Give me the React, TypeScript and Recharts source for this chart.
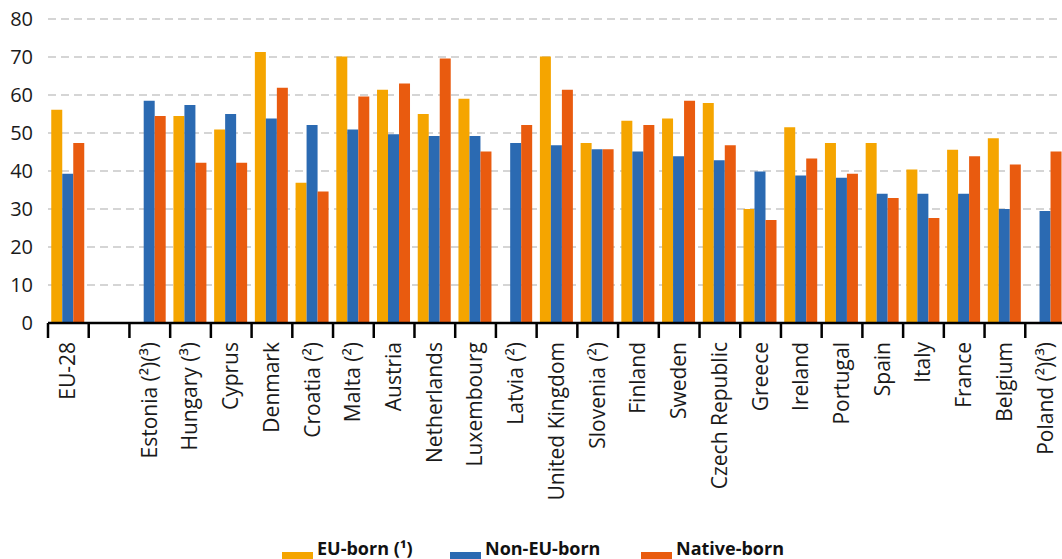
import React from "react";
import { BarChart, Bar, XAxis, YAxis, CartesianGrid, Legend } from "recharts";

const categories = [
  "EU-28", "", "Estonia (²)(³)", "Hungary (³)", "Cyprus", "Denmark", "Croatia (²)", "Malta (²)",
  "Austria", "Netherlands", "Luxembourg", "Latvia (²)", "United Kingdom", "Slovenia (²)", "Finland",
  "Sweden", "Czech Republic", "Greece", "Ireland", "Portugal", "Spain", "Italy", "France", "Belgium",
  "Poland (²)(³)",
];
const euBorn = [56.1, null, null, 54.5, 50.9, 71.3, 36.9, 70.1, 61.4, 55.0, 59.0, null, 70.1, 47.4, 53.2, 53.8, 57.9, 30.0, 51.5, 47.4, 47.4, 40.4, 45.6, 48.6, null];
const nonEuBorn = [39.3, null, 58.5, 57.4, 55.0, 53.8, 52.1, 50.9, 49.7, 49.2, 49.2, 47.4, 46.8, 45.7, 45.1, 43.9, 42.8, 39.9, 38.8, 38.2, 34.0, 34.0, 34.0, 30.0, 29.5];
const nativeBorn = [47.4, null, 54.5, 42.2, 42.2, 61.9, 34.6, 59.6, 63.0, 69.6, 45.1, 52.1, 61.4, 45.7, 52.1, 58.5, 46.8, 27.1, 43.3, 39.3, 32.9, 27.6, 43.9, 41.7, 45.1];
const yTicks = [0, 10, 20, 30, 40, 50, 60, 70, 80];
const seriesNames = ["EU-born (¹)", "Non-EU-born", "Native-born"];

const COLORS = ["#F5A500", "#2B6AB2", "#E95B0F"];

const data = categories.map((c, i) => ({
  name: c,
  eu: euBorn[i],
  noneu: nonEuBorn[i],
  native: nativeBorn[i],
}));

const CHART_W = 1070;
const CHART_H = 580;
const Y_W = 48;
const M_RIGHT = 4;
const PLOT_W = CHART_W - Y_W - M_RIGHT;
const BAND = PLOT_W / categories.length;
const TICK_LEN = 15;
const TICK_GAP = 4;

const XTick = (props: any) => {
  const { x, y, payload } = props;
  const axisY = y - TICK_LEN - TICK_GAP;
  const left = x - BAND / 2;
  return (
    <g>
      <line x1={left} x2={left} y1={axisY} y2={axisY + TICK_LEN} stroke="#000" strokeWidth={2.5} />
      <text
        x={x}
        y={y}
        transform={`rotate(-90, ${x}, ${y})`}
        textAnchor="end"
        dy="0.33em"
        fontSize={21}
        fill="#1a1a1a"
      >
        {payload.value}
      </text>
    </g>
  );
};

const LegendContent = () => {
  const widths = [168, 191, 160];
  return (
    <div style={{ position: "relative", height: 40, width: 1062 }}>
      <div style={{ position: "absolute", left: 282, top: 0, display: "flex" }}>
        {seriesNames.map((n, i) => (
          <div key={n} style={{ width: widths[i], position: "relative", height: 40 }}>
            <div style={{ position: "absolute", left: 0, top: 12, width: 31, height: 16, background: COLORS[i] }} />
            <span
              style={{
                position: "absolute",
                left: 35,
                top: -1,
                fontSize: 18,
                lineHeight: "18px",
                fontWeight: 700,
                color: "#111",
                whiteSpace: "nowrap",
              }}
            >
              {n}
            </span>
          </div>
        ))}
      </div>
    </div>
  );
};

export default function App() {
  return (
    <div
      style={{
        position: "absolute",
        left: 0,
        top: 0,
        width: 1062,
        height: 559,
        overflow: "hidden",
        background: "#fff",
        fontFamily: "'Open Sans', sans-serif",
      }}
    >
      <BarChart
        width={CHART_W}
        height={CHART_H}
        data={data}
        margin={{ top: 19, right: M_RIGHT, left: 0, bottom: 0 }}
        barCategoryGap="8%"
        barGap={0}
      >
        <CartesianGrid vertical={false} stroke="#c8c8c8" strokeDasharray="8 5" strokeWidth={1.3} />
        <YAxis
          width={Y_W}
          domain={[0, 80]}
          ticks={yTicks}
          axisLine={false}
          tickLine={false}
          tickSize={0}
          tickMargin={15}
          tick={{ fontSize: 20, fill: "#1a1a1a" }}
          interval={0}
        />
        <XAxis
          dataKey="name"
          height={217}
          interval={0}
          axisLine={{ stroke: "#000", strokeWidth: 2.5 }}
          tickLine={false}
          tickSize={TICK_LEN}
          tickMargin={TICK_GAP}
          tick={<XTick />}
        />
        <Legend
          verticalAlign="bottom"
          height={40}
          wrapperStyle={{ left: 0, width: 1062, height: 40 }}
          content={<LegendContent />}
        />
        <Bar dataKey="eu" name={seriesNames[0]} fill={COLORS[0]} isAnimationActive={false} />
        <Bar dataKey="noneu" name={seriesNames[1]} fill={COLORS[1]} isAnimationActive={false} />
        <Bar dataKey="native" name={seriesNames[2]} fill={COLORS[2]} isAnimationActive={false} />
      </BarChart>
    </div>
  );
}
